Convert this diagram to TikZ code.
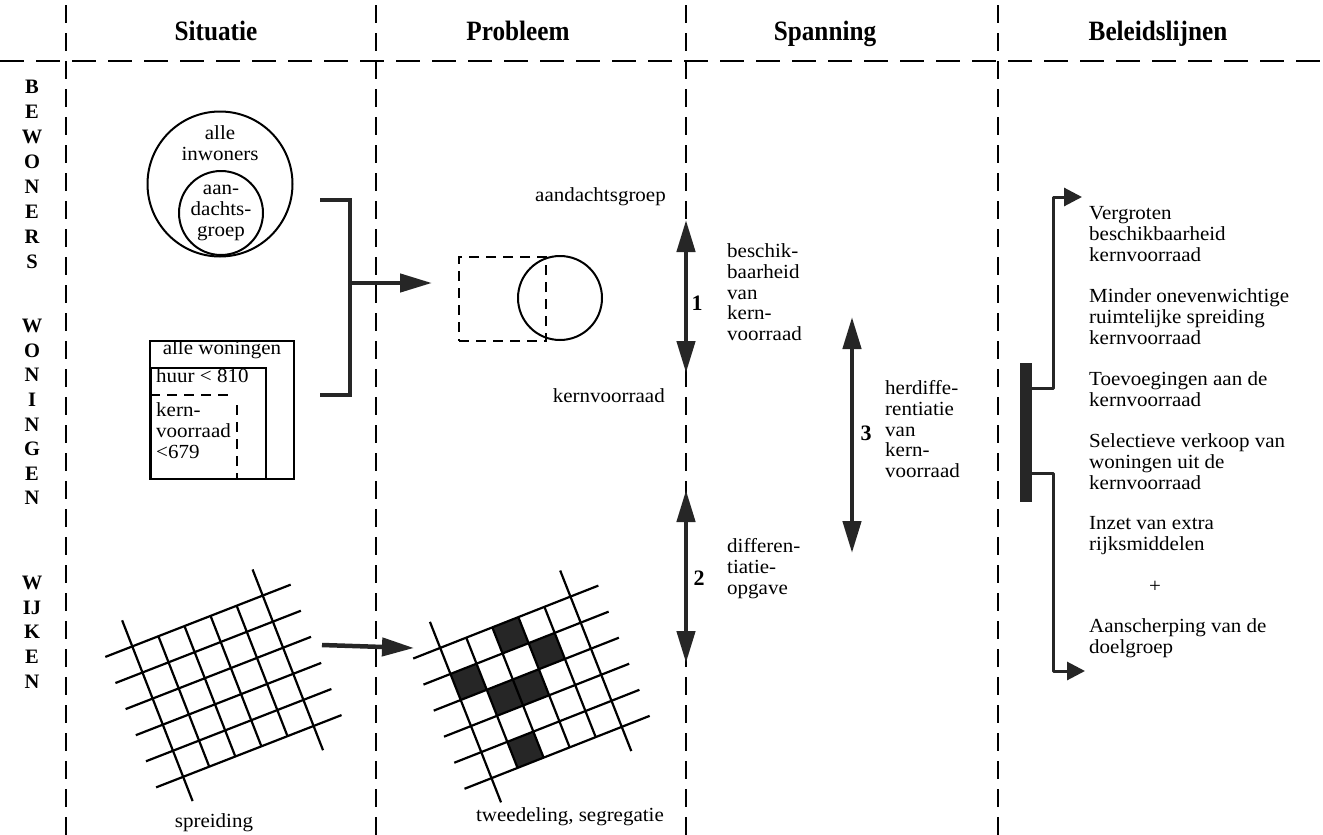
\documentclass[tikz,border=0pt]{standalone}
\usepackage{fontspec}
\setmainfont[FakeStretch=1.05]{Liberation Serif}
\newfontfamily\hdfont[FakeStretch=0.9]{Liberation Serif}
\newfontfamily\sidefont{Liberation Serif}
\usetikzlibrary{arrows.meta}
\colorlet{ink}{black!85}
\begin{document}
\begin{tikzpicture}[x=1pt,y=-1pt,
  body/.style={font=\fontsize{20}{20.7}\selectfont, inner sep=0pt},
  blk/.style={body, align=left, anchor=north west},
  cblk/.style={body, align=center, anchor=north},
  lbl/.style={body, anchor=base},
  head/.style={font=\hdfont\bfseries\fontsize{28}{32}\selectfont, inner sep=0pt, anchor=base},
  side/.style={font=\sidefont\bfseries\fontsize{20.5}{24}\selectfont, inner sep=0pt},
  num/.style={font=\sidefont\bfseries\fontsize{22}{24}\selectfont, inner sep=0pt},
  colline/.style={line width=1.5pt, dash pattern=on 18pt off 10pt},
  topline/.style={line width=2.6pt, dash pattern=on 24pt off 12pt},
  thin/.style={line width=2pt},
  dsh/.style={line width=2.2pt, dash pattern=on 10pt off 7pt},
  gridl/.style={line width=2.2pt},
  dbl/.style={line width=4.5pt, draw=ink, {Triangle[length=32pt,width=18pt]}-{Triangle[length=32pt,width=18pt]}},
  sgl/.style={line width=4.5pt, draw=ink, -{Triangle[length=32pt,width=18pt]}},
  brk/.style={line width=4.5pt, draw=ink},
  branch/.style={line width=3pt, draw=ink, line join=round, -{Triangle[length=18pt,width=18pt]}}
]
\useasboundingbox (0,0) rectangle (1323,835);
\fill[white] (0,0) rectangle (1323,835);

% column lines
\foreach \x in {66,376,686,998} \draw[colline] (\x,5) -- (\x,835);
\draw[topline] (0,61) -- (1323,61);

% headers
\node[head] (h1) at (216,40) {Situatie};
\node[head] (h2) at (518,40) {Probleem};
\node[head] (h3) at (825,40) {Spanning};
\node[head] (h4) at (1158,40) {Beleidslijnen};

% side letters
\foreach \l [count=\i from 0] in {B,E,W,O,N,E,R,S}
  \node[side] (bw\i) at (32, 87+25*\i) {\l};
\foreach \l [count=\i from 0] in {W,O,N,I,N,G,E,N}
  \node[side] (wo\i) at (32, 326+24.6*\i) {\l};
\foreach \l [count=\i from 0] in {W,IJ,K,E,N}
  \node[side] (wi\i) at (32, 583+24.6*\i) {\l};

% Situatie: circles
\node[circle, draw, thin, minimum size=145pt, inner sep=0pt] (outer) at (220,184) {};
\node[circle, draw, thin, minimum size=84pt, inner sep=0pt] (inner) at (221,213) {};
\node[cblk] (tinw) at (220,125) {\strut alle\\inwoners};
\node[cblk] (tgrp) at (221,180) {\strut aan-\\dachts-\\groep};

% Situatie: box
\node[draw, thin, inner sep=0pt, minimum width=144pt, minimum height=138pt, anchor=north west] (allbox) at (149,340) {};
\node[draw, thin, inner sep=0pt, minimum width=115pt, minimum height=111pt, anchor=north west] (huurbox) at (150,367) {};
\node[lbl] (tall) at (222,354.6) {alle woningen};
\node[lbl, anchor=base west] (thuur) at (156,382.6) {huur < 810};
\coordinate (kd1) at (150,395);
\coordinate (kd2) at (232,395);
\coordinate (kd3) at (237,405);
\coordinate (kd4) at (237,478);
\draw[dsh] (kd1) -- (kd2);
\draw[dsh] (kd3) -- (kd4);
\node[blk] (tkern) at (156,402) {\strut kern-\\voorraad\\<679};

% bracket and arrow
\coordinate (b1) at (320,200);
\coordinate (b2) at (350,200);
\coordinate (b3) at (350,395);
\coordinate (b4) at (320,395);
\coordinate (bm) at (350,283);
\coordinate (bt) at (432,283);
\draw[brk] (b1) -- (b2) -- (b3) -- (b4);
\draw[sgl] (bm) -- (bt);

% Probleem: dashed rect + circle
\node[draw, dsh, inner sep=0pt, minimum width=87pt, minimum height=84pt, anchor=north west] (drect) at (458,256) {};
\node[circle, draw, thin, minimum size=84pt, inner sep=0pt] (pcirc) at (560,298) {};
\node[lbl, anchor=base east] (taand) at (666,201.5) {aandachtsgroep};
\node[lbl, anchor=base east] (tkv) at (665,402.5) {kernvoorraad};

% Spanning arrows
\coordinate (a1t) at (686,220);
\coordinate (a1b) at (686,373);
\coordinate (a2t) at (686,490);
\coordinate (a2b) at (686,663);
\coordinate (a3t) at (852,317);
\coordinate (a3b) at (852,553);
\draw[dbl] (a1t) -- (a1b);
\draw[dbl] (a2t) -- (a2b);
\draw[dbl] (a3t) -- (a3b);
\node[num] (n1) at (697,303) {1};
\node[num] (n2) at (699,578) {2};
\node[num] (n3) at (866,433) {3};
\node[blk] (t1) at (727,243) {\strut beschik-\\baarheid\\van\\kern-\\voorraad};
\node[blk] (t2) at (727,538) {\strut differen-\\tiatie-\\opgave};
\node[blk] (t3) at (885,380) {\strut herdiffe-\\rentiatie\\van\\kern-\\voorraad};

% Beleidslijnen
\node[fill=ink, inner sep=0pt, minimum width=12pt, minimum height=139pt, anchor=north west] (bar) at (1020,363) {};
\coordinate (u0) at (1032,388);
\coordinate (u1) at (1053,197);
\coordinate (u2) at (1082,197);
\coordinate (l0) at (1032,473);
\coordinate (l1) at (1053,671);
\coordinate (l2) at (1085,671);
\draw[branch] (u0) -| (u1) -- (u2);
\draw[branch] (l0) -| (l1) -- (l2);
\node[blk] (r1) at (1089,205) {\strut Vergroten\\beschikbaarheid\\kernvoorraad};
\node[blk] (r2) at (1089,288) {\strut Minder onevenwichtige\\ruimtelijke spreiding\\kernvoorraad};
\node[blk] (r3) at (1089,371) {\strut Toevoegingen aan de\\kernvoorraad};
\node[blk] (r4) at (1089,433) {\strut Selectieve verkoop van\\woningen uit de\\kernvoorraad};
\node[blk] (r5) at (1089,515) {\strut Inzet van extra\\rijksmiddelen};
\node[body] (plus) at (1155,587) {+};
\node[blk] (r6) at (1089,618) {\strut Aanscherping van de\\doelgroep};

% grids
\begin{scope}[shift={(132.3,646.4)}, rotate=21.3]
  \foreach \v in {0,28,...,140} \draw[gridl] (-29,\v) -- (170,\v);
  \foreach \u in {0,140} \draw[gridl] (\u,-28) -- (\u,166);
  \foreach \u in {28,56,...,112} \draw[gridl] (\u,0) -- (\u,140);
\end{scope}
\begin{scope}[shift={(440.2,647.9)}, rotate=21.5]
  \foreach \u/\v in {2/0,3/1,0/1,1/2,2/2,1/4}
    \fill[ink] (28*\u,28*\v) rectangle ++(28,28);
  \foreach \v in {0,28,...,140} \draw[gridl] (-29,\v) -- (170,\v);
  \foreach \u in {0,140} \draw[gridl] (\u,-28) -- (\u,166);
  \foreach \u in {28,56,...,112} \draw[gridl] (\u,0) -- (\u,140);
\end{scope}
\coordinate (g1) at (322,645);
\coordinate (g2) at (414,648);
\draw[sgl] (g1) -- (g2);
\node[lbl] (tspr) at (214,827.6) {spreiding};
\node[lbl] (ttwee) at (570,821.6) {tweedeling, segregatie};
\end{tikzpicture}
\end{document}
